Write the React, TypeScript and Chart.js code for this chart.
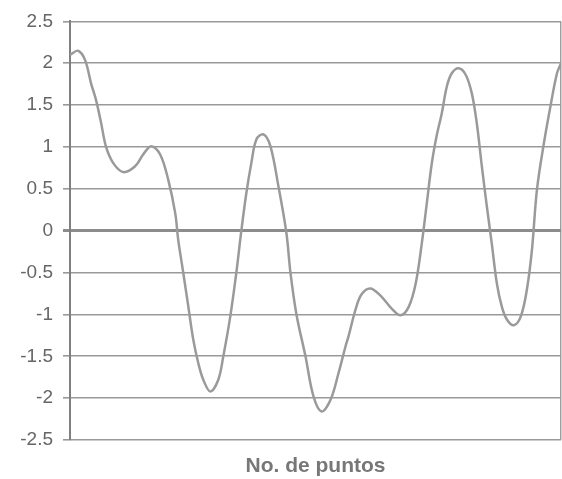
import React, { useEffect, useRef } from "react";
import { Chart, registerables } from "chart.js";

Chart.register(...registerables);

const pointNumbers = [
  0, 8, 15, 21, 26, 31, 36, 43, 53, 65, 73, 81, 90, 98, 105, 108, 113, 118, 123, 128, 133,
  140, 148, 153, 160, 166, 171, 176, 181, 186, 193, 200, 208, 216, 220, 226, 235, 243, 251,
  260, 268, 275, 278, 285, 291, 300, 311, 321, 330, 338, 345, 351, 356, 361, 366, 371, 376,
  381, 388, 395, 401, 406, 411, 416, 421, 426, 431, 436, 443, 450, 456, 461, 466, 473, 480,
  486, 490,
];
const signalValues = [
  2.1, 2.15, 2.04, 1.76, 1.56, 1.29, 1.0, 0.81, 0.7, 0.77, 0.91, 1.01, 0.91, 0.61, 0.21,
  -0.11, -0.5, -0.9, -1.3, -1.58, -1.78, -1.92, -1.78, -1.5, -1.02, -0.5, 0.0, 0.45, 0.81,
  1.09, 1.15, 1.01, 0.53, -0.03, -0.5, -1.0, -1.5, -1.98, -2.16, -2.02, -1.7, -1.38, -1.26,
  -0.94, -0.76, -0.69, -0.79, -0.93, -1.01, -0.91, -0.63, -0.16, 0.32, 0.8, 1.14, 1.4, 1.72,
  1.88, 1.94, 1.86, 1.64, 1.28, 0.77, 0.29, -0.16, -0.63, -0.91, -1.06, -1.13, -1.02, -0.7,
  -0.23, 0.49, 1.05, 1.52, 1.88, 2.0,
];
const yTickValues = [-2.5, -2, -1.5, -1, -0.5, 0, 0.5, 1, 1.5, 2, 2.5];
const xAxisTitle = "No. de puntos";

export default function App() {
  const ref = useRef<HTMLCanvasElement | null>(null);

  useEffect(() => {
    document.body.style.margin = "0";
    if (!ref.current) return;
    const chart = new Chart(ref.current, {
      type: "line",
      data: {
        datasets: [
          {
            data: pointNumbers.map((x, i) => ({ x, y: signalValues[i] })),
            borderColor: "#9a9a9a",
            borderWidth: 2.5,
            pointRadius: 0,
            tension: 0.35,
            fill: false,
          },
        ],
      },
      options: {
        animation: false,
        responsive: false,
        maintainAspectRatio: false,
        layout: { padding: { left: 0, right: 1, top: 21, bottom: 0 } },
        plugins: { legend: { display: false }, tooltip: { enabled: false } },
        scales: {
          x: {
            type: "linear",
            min: 0,
            max: 490,
            ticks: { display: false, stepSize: 490 },
            grid: {
              drawTicks: false,
              color: (ctx: any) => (ctx.tick && ctx.tick.value === 490 ? "#a0a0a0" : "rgba(0,0,0,0)"),
              lineWidth: 1.5,
            },
            border: { display: false },
            title: {
              display: true,
              text: xAxisTitle,
              color: "#777777",
              font: { family: "Liberation Sans, Arial, sans-serif", size: 21, weight: "bold" },
              padding: { top: 0, bottom: 0 },
            },
            afterFit: (scale: any) => {
              scale.height = 39;
            },
          },
          y: {
            type: "linear",
            min: -2.5,
            max: 2.5,
            afterBuildTicks: (scale: any) => {
              scale.ticks = yTickValues.map((v) => ({ value: v }));
            },
            ticks: {
              color: "#666666",
              padding: 10,
              font: { family: "Liberation Sans, Arial, sans-serif", size: 19 },
              callback: (v: any) => String(v),
            },
            grid: {
              color: (ctx: any) => (ctx.tick && ctx.tick.value === 0 ? "#8c8c8c" : "#999999"),
              lineWidth: (ctx: any) => (ctx.tick && ctx.tick.value === 0 ? 3 : 1.6),
              tickLength: 7,
            },
            border: { display: true, color: "#808080", width: 2 },
            afterFit: (scale: any) => {
              scale.width = 70;
            },
          },
        },
      },
    });
    return () => chart.destroy();
  }, []);

  return (
    <div style={{ width: 562, height: 479, background: "#ffffff" }}>
      <canvas ref={ref} width={562} height={479} style={{ display: "block" }} />
    </div>
  );
}
